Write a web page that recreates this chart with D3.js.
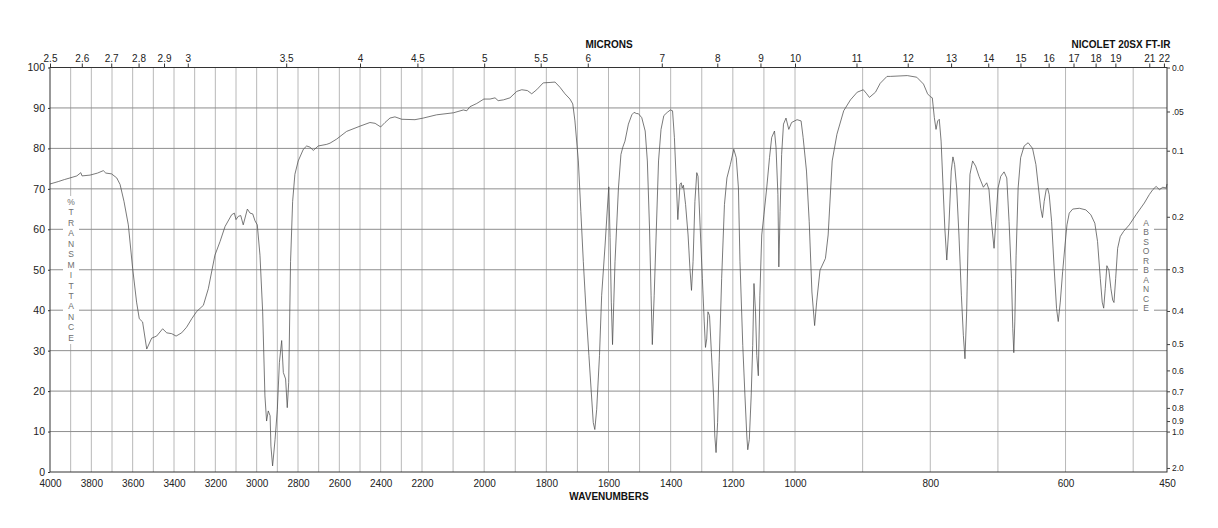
<!DOCTYPE html>
<html>
<head>
<meta charset="utf-8">
<script src="https://cdn.jsdelivr.net/npm/d3@7"></script>
<style>
  body { margin: 0; background: #fff; }
  svg { display: block; font-family: 'Liberation Sans', Arial, sans-serif; }
  .axis text { fill: #222; }
  .axis .domain { display: none; }
</style>
</head>
<body>
<div id="chart"></div>
<script>
// spectrum (wavenumber cm-1, %T)
const wavenumbers = [
  4000, 3960, 3930, 3903, 3870, 3851, 3845, 3806, 3770, 3742, 3730, 3702, 3677, 3661, 3642, 3621,
  3600, 3581, 3568, 3552, 3532, 3508, 3484, 3455, 3435, 3411, 3390, 3363, 3339, 3314, 3290, 3258,
  3234, 3202, 3177, 3153, 3121, 3108, 3100, 3089, 3077, 3065, 3045, 3032, 3019, 3008, 2997, 2984,
  2971, 2960, 2952, 2944, 2935, 2931, 2923, 2911, 2900, 2890, 2879, 2871, 2860, 2852, 2845, 2836,
  2826, 2815, 2799, 2774, 2758, 2742, 2726, 2702, 2661, 2645, 2613, 2565, 2500, 2452, 2427, 2400,
  2379, 2355, 2331, 2298, 2234, 2196, 2153, 2099, 2067, 2056, 2046, 2024, 2001, 1981, 1965, 1955,
  1938, 1917, 1895, 1879, 1861, 1847, 1831, 1810, 1788, 1772, 1756, 1740, 1724, 1715, 1708, 1697,
  1689, 1681, 1672, 1663, 1656, 1649, 1644, 1638, 1629, 1622, 1611, 1603, 1599, 1595, 1591, 1587,
  1583, 1579, 1568, 1560, 1554, 1547, 1536, 1525, 1518, 1509, 1504, 1493, 1482, 1475, 1468, 1463,
  1459, 1453, 1446, 1439, 1431, 1422, 1411, 1401, 1394, 1388, 1382, 1377, 1370, 1366, 1363, 1359,
  1352, 1344, 1338, 1333, 1328, 1322, 1316, 1312, 1305, 1298, 1292, 1288, 1284, 1280, 1275, 1269,
  1262, 1258, 1254, 1249, 1244, 1236, 1227, 1219, 1208, 1197, 1189, 1182, 1177, 1168, 1161, 1155,
  1152, 1147, 1141, 1136, 1132, 1127, 1123, 1118, 1113, 1107, 1100, 1091, 1082, 1075, 1066, 1061,
  1055, 1052, 1048, 1043, 1037, 1029, 1020, 1011, 997, 991, 988, 983, 979, 975, 971, 968,
  963, 955, 951, 945, 938, 928, 918, 908, 899, 894, 890, 881, 874, 864, 859, 834,
  820, 810, 804, 800, 797, 794, 791.5, 789, 786.7, 784, 781, 778.5, 775.6, 772.6, 769, 766.5,
  764, 761, 757.6, 754, 751.1, 748.7, 746.2, 743.7, 741.3, 737.4, 732.9, 728, 721.5, 716.6, 713.2, 709.6,
  705.7, 702.8, 699.8, 695.8, 690.9, 686.9, 683.5, 679.9, 678, 676.5, 675, 673.1, 670.1, 666.4, 661.2, 655.3,
  648.8, 643.8, 640, 636.7, 634.1, 631.6, 628.6, 626.6, 624.2, 620.6, 616.8, 613.3, 610.8, 607.8, 604.3, 600.8,
  597.9, 594.5, 589.4, 579.6, 570, 562.6, 556.7, 552.7, 548.6, 545.8, 543.6, 541.3, 538.9, 535.9, 532.9, 530.3,
  528.4, 525.9, 523, 519.1, 514.1, 505.7, 495.8, 483.5, 476.1, 471, 466.1, 461.2, 456.2, 451.3, 450
]
const transmittance = [
  71.2, 71.8, 72.3, 72.7, 73.2, 74.0, 73.2, 73.4, 73.9, 74.5, 73.9, 73.7, 72.7, 71.1, 66.9, 61.1,
  50.3, 42.0, 37.9, 37.1, 30.4, 33.1, 33.6, 35.4, 34.4, 34.2, 33.6, 34.4, 35.8, 37.9, 39.7, 41.2,
  45.3, 53.6, 57.0, 60.7, 63.6, 64.0, 62.4, 63.2, 63.4, 61.1, 65.0, 64.0, 63.8, 62.1, 61.1, 53.6,
  39.6, 18.8, 12.6, 15.1, 13.9, 6.4, 1.5, 8.0, 15.5, 27.1, 32.5, 24.6, 23.0, 15.9, 22.1, 52.0,
  66.9, 73.6, 76.9, 79.8, 80.6, 80.3, 79.5, 80.6, 81.0, 81.3, 82.3, 84.2, 85.5, 86.4, 86.2, 85.3,
  86.4, 87.5, 87.8, 87.2, 87.1, 87.5, 88.3, 88.8, 89.5, 89.3, 90.3, 91.1, 92.2, 92.2, 92.5, 91.8,
  92.0, 92.5, 94.1, 94.5, 94.3, 93.5, 94.5, 96.2, 96.3, 96.4, 95.1, 93.5, 92.2, 91.0, 86.8, 76.9,
  64.4, 52.0, 39.6, 28.8, 20.5, 12.2, 10.5, 15.5, 28.8, 43.7, 56.1, 66.0, 70.5, 58.0, 42.0, 31.5,
  42.0, 52.0, 70.2, 78.5, 80.3, 81.8, 86.0, 88.3, 88.9, 88.6, 88.6, 87.6, 84.3, 76.9, 60.3, 43.7,
  31.5, 43.7, 60.3, 76.9, 84.7, 88.1, 88.9, 89.5, 89.3, 82.7, 71.9, 62.4, 71.1, 71.5, 70.2, 70.9,
  66.1, 58.6, 50.3, 44.9, 52.0, 66.9, 74.0, 73.1, 60.3, 47.8, 37.1, 30.8, 32.9, 39.6, 38.7, 29.6,
  18.8, 8.9, 4.8, 12.2, 27.1, 47.8, 66.1, 72.7, 76.0, 79.8, 77.7, 70.2, 52.0, 31.3, 18.8, 8.9,
  5.5, 8.0, 18.8, 31.3, 46.6, 39.6, 28.8, 23.8, 43.7, 58.6, 63.6, 70.2, 77.7, 82.7, 84.3, 80.2,
  68.6, 50.7, 64.4, 78.5, 86.0, 87.5, 84.7, 86.4, 87.1, 86.8, 82.7, 74.4, 61.9, 44.5, 36.2, 42.0,
  49.9, 52.8, 58.6, 76.9, 83.5, 89.3, 92.0, 93.9, 94.5, 93.5, 92.6, 93.9, 96.1, 97.8, 97.8, 98.0,
  97.6, 95.9, 93.5, 92.8, 92.5, 87.6, 84.7, 86.8, 87.2, 81.8, 70.2, 60.3, 52.4, 60.3, 74.4, 77.9,
  76.0, 70.2, 58.6, 43.7, 33.8, 28.0, 39.6, 60.3, 73.6, 76.9, 75.6, 73.1, 70.4, 71.5, 69.8, 61.9,
  55.3, 62.8, 70.2, 73.1, 74.2, 72.7, 61.9, 47.8, 35.4, 29.5, 37.1, 53.6, 70.2, 77.7, 80.6, 81.4,
  80.0, 76.0, 70.2, 65.2, 62.9, 66.9, 69.8, 70.2, 68.6, 61.9, 50.3, 40.4, 37.2, 42.0, 49.5, 56.1,
  61.1, 64.0, 65.0, 65.2, 64.8, 63.6, 61.5, 57.0, 47.8, 42.0, 40.5, 45.3, 51.0, 49.9, 45.3, 42.5,
  41.9, 47.8, 55.3, 58.2, 59.5, 61.1, 63.6, 66.5, 68.6, 69.8, 70.6, 69.8, 70.4, 70.2, 71.2
]

const wavenumberTicks = [4000, 3800, 3600, 3400, 3200, 3000, 2800, 2600, 2400, 2200, 2000, 1800, 1600, 1400, 1200, 1000, 800, 600, 450]
const micronTicks = [2.5, 2.6, 2.7, 2.8, 2.9, 3, 3.5, 4, 4.5, 5, 5.5, 6, 7, 8, 9, 10, 11, 12, 13, 14, 15, 16, 17, 18, 19, 21, 22]
const transmittanceTicks = [0, 10, 20, 30, 40, 50, 60, 70, 80, 90, 100]
const absorbanceTicks = [0, 0.05, 0.1, 0.2, 0.3, 0.4, 0.5, 0.6, 0.7, 0.8, 0.9, 1.0, 2.0]
const absorbanceLabels = ['0.0', '.05', '0.1', '0.2', '0.3', '0.4', '0.5', '0.6', '0.7', '0.8', '0.9', '1.0', '2.0']

let width = 1218
let height = 528
let plotLeft = 50, plotRight = 1167, plotTop = 67.5, plotBottom = 472

// the chart paper changes scale at 2200 and at 1000 cm-1
let x = d3.scaleLinear()
  .domain([4000, 2200, 1000, 450])
  .range([plotLeft, 422, 795, plotRight])
let y = d3.scaleLinear()
  .domain([0, 100])
  .range([plotBottom, plotTop])

let svg = d3.select('#chart').append('svg')
  .attr('width', width)
  .attr('height', height)

// grid
let grid = svg.append('g')
grid.selectAll('line.v')
  .data(d3.range(3900, 450, -100))
  .join('line')
  .attr('class', 'v')
  .attr('x1', d => x(d)).attr('x2', d => x(d))
  .attr('y1', plotTop).attr('y2', plotBottom)
  .attr('stroke', '#b8b8b8')
  .attr('stroke-width', 1)
grid.selectAll('line.h')
  .data(d3.range(10, 100, 10))
  .join('line')
  .attr('class', 'h')
  .attr('x1', plotLeft).attr('x2', plotRight)
  .attr('y1', d => y(d)).attr('y2', d => y(d))
  .attr('stroke', '#8e8e8e')
  .attr('stroke-width', 1)

// vertical captions sit on white patches over the grid
function letterColumn (text, cx, y0, step, box) {
  svg.append('rect')
    .attr('x', box[0]).attr('y', box[1])
    .attr('width', box[2]).attr('height', box[3])
    .attr('fill', '#fff')
  svg.append('g').selectAll('text')
    .data(text.split(''))
    .join('text')
    .attr('x', cx)
    .attr('y', (d, i) => y0 + i * step)
    .attr('dy', '0.35em')
    .attr('text-anchor', 'middle')
    .attr('font-size', 8.5)
    .attr('fill', '#6e6e6e')
    .text(d => d)
}
letterColumn('%TRANSMITTANCE', 71, 202, 10.45, [63, 196, 16, 148])
letterColumn('ABSORBANCE', 1146, 223, 9.5, [1138, 215, 16, 99])

// spectrum
let line = d3.line()
  .x(d => x(d[0]))
  .y(d => y(d[1]))
svg.append('path')
  .datum(wavenumbers.map((w, i) => [w, transmittance[i]]))
  .attr('d', line)
  .attr('fill', 'none')
  .attr('stroke', '#4d4d4d')
  .attr('stroke-width', 0.75)
  .attr('stroke-linejoin', 'round')

// frame
svg.append('rect')
  .attr('x', plotLeft).attr('y', plotTop)
  .attr('width', plotRight - plotLeft).attr('height', plotBottom - plotTop)
  .attr('fill', 'none')
  .attr('stroke', '#333')
  .attr('stroke-width', 1)

// axes
svg.append('g')
  .attr('class', 'axis')
  .attr('transform', `translate(0,${plotBottom})`)
  .call(d3.axisBottom(x).tickValues(wavenumberTicks).tickSize(0).tickPadding(8).tickFormat(d3.format('d')))
  .attr('font-size', 10)
  .attr('font-family', null)

svg.append('g')
  .attr('class', 'axis')
  .attr('transform', `translate(0,${plotTop})`)
  .call(d3.axisTop(x)
    .tickValues(micronTicks.map(m => 10000 / m))
    .tickSize(4).tickPadding(2)
    .tickFormat((d, i) => String(micronTicks[i])))
  .attr('font-size', 10)
  .attr('font-family', null)
  .call(g => g.selectAll('.tick line').attr('stroke', '#333'))

svg.append('g')
  .attr('class', 'axis')
  .attr('transform', `translate(${plotLeft},0)`)
  .call(d3.axisLeft(y).tickValues(transmittanceTicks).tickSize(2).tickPadding(3).tickFormat(d3.format('d')))
  .attr('font-size', 10.5)
  .attr('font-family', null)
  .call(g => g.selectAll('.tick line').attr('stroke', '#333'))

svg.append('g')
  .attr('class', 'axis')
  .attr('transform', `translate(${plotRight},0)`)
  .call(d3.axisRight(y)
    .tickValues(absorbanceTicks.map(a => 100 * Math.pow(10, -a)))
    .tickSize(3).tickPadding(2)
    .tickFormat((d, i) => absorbanceLabels[i]))
  .attr('font-size', 8.5)
  .attr('font-family', null)
  .call(g => g.selectAll('.tick line').attr('stroke', '#444'))
  .call(g => g.selectAll('.tick text').attr('fill', '#444'))

// titles
let titles = [
  { text: 'MICRONS', x: 609, y: 48 },
  { text: 'NICOLET 20SX FT-IR', x: 1121, y: 48 },
  { text: 'WAVENUMBERS', x: 609, y: 500 }
]
svg.append('g').selectAll('text')
  .data(titles)
  .join('text')
  .attr('x', d => d.x)
  .attr('y', d => d.y)
  .attr('text-anchor', 'middle')
  .attr('font-size', 10)
  .attr('font-weight', 'bold')
  .attr('fill', '#111')
  .text(d => d.text)
</script>
</body>
</html>
